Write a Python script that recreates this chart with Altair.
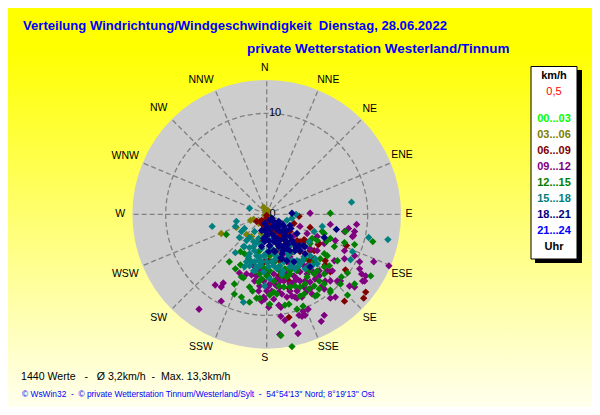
import altair as alt
import math
import pandas as pd

# wind points: east / north components in km/h, one pair of lists per time band
h00_03_e = [0.2, 0.3, 0.0]
h00_03_n = [-0.2, -0.4, -0.1]
h21_24_e = [0.1, 0.5, 0.8, 0.3, 1.3, 1.5, 0.7, -0.3]
h21_24_n = [-0.6, -0.9, -1.4, -1.7, -1.9, -2.4, -2.4, -1.1]
h03_06_e = [-0.3, 0.1, -0.2, -4.5, -1.6, -1.3, -3.0, -2.0, -1.5, -0.7, -0.8, -0.2, -0.5, 0.0]
h03_06_n = [0.7, 0.4, 0.4, -1.9, -0.6, -0.5, -1.3, -2.0, -2.2, -0.7, -0.9, -0.1, -1.9, 0.3]
h09_12_e = [4.3, 6.3, 8.9, 8.1, 7.7, 8.7, 8.6, 8.5, 7.7, 7.7, 9.2, 10.6, 12.1, 9.2, 9.4, 9.8, 9.7, 9.5, 8.7, 6.8,
            6.7, 6.5, 7.3, 7.0, 8.2, 8.7, 6.8, 6.3, 5.7, 6.3, -5.1, -4.3, -4.5, -4.5, -6.7, -2.7, -1.2, -2.0, -1.5, -0.5,
            -0.2, 0.2, 1.2, 1.4, 2.7, 3.1, 1.4, 1.8, 5.7, 5.4, 4.1, 3.5, 3.2, 3.8, 3.6, 2.8, 2.5, 3.0, 0.7, -0.3,
            0.0, 0.2, 1.3, 1.0, 2.3, 3.7, 4.3, 5.5, 4.5, 3.7, 3.0, 2.7, 3.8, 4.8, 3.3, 2.7, 3.3, 1.7, 2.3, 0.7,
            1.2, 1.3, -1.3, -0.7, 4.0, 5.0, -0.8,
            2.0, 1.7, 2.7, 3.3, 4.0, 4.3, 5.2, 2.3, 3.0, 4.0, 1.3, 0.3, -0.3, 0.0, -0.7, 0.5, 1.0, 1.5, 2.0, 3.5,
            4.5, 5.8, 5.2, 6.0, 2.8, 4.0, 3.2, 2.2, 0.8, -1.0, 5.0, 5.7, 3.7, 4.3]
h09_12_n = [0.1, -1.0, -1.0, -1.4, -1.7, -1.7, -2.1, -2.2, -3.6, -4.4, -4.7, -4.7, -5.1, -5.4, -5.9, -6.1, -6.6, -6.6, -4.1, -2.6,
            -4.6, -5.6, -6.6, -6.6, -7.1, -7.2, -8.2, -8.3, -7.4, -6.6, -7.0, -6.8, -7.2, -8.6, -9.4, -5.8, -6.6, -5.9, -6.0, -8.6,
            -8.4, -9.2, -9.0, -9.2, -11.0, -11.8, -10.1, -10.5, -10.0, -10.6, -9.4, -10.1, -10.0, -10.0, -9.6, -8.2, -8.1, -8.3, -8.4, -8.2,
            -7.6, -7.1, -7.2, -6.4, -6.9, -7.2, -7.4, -7.1, -5.6, -5.1, -6.4, -6.1, -6.6, -6.4, -5.7, -2.1, -1.2, -3.9, -4.2, -5.9,
            -7.7, -11.9, -5.1, -5.6, -1.9, -3.6, -7.6,
            -5.9, -6.6, -6.7, -6.6, -5.9, -6.7, -6.1, -7.6, -7.6, -7.6, -6.6, -6.9, -6.6, -5.9, -7.1, -7.6, -7.1, -7.9, -8.2, -8.2,
            -7.9, -6.6, -5.6, -5.6, -5.4, -5.1, -4.7, -4.7, -6.9, -6.1, -2.2, -2.9, -3.2, -3.4]
h12_15_e = [6.3, -4.0, 10.5, 2.5, 1.4, -3.2, -2.5, -1.7, -1.0, -0.7, -1.4, -1.7, -3.1, -3.7, -2.5, -2.3, -2.6, -3.2, -2.6, -2.2,
            -0.7, -0.8, 0.0, 0.7, 1.0, 1.8, 2.2, 3.0, 3.6, 0.3, 4.7, 5.2, 5.7, 6.3, 6.3, 8.0, 7.3, 7.4, 8.7, 10.3,
            8.0, 7.0, 5.7, 5.5, 7.8, 8.7, 6.7, 7.7, 4.3, 3.8, 2.3, 1.3, 2.0, 3.3, 2.3, 4.8, 5.0, 1.7, 0.3, 4.7,
            4.0, 3.0, 0.7, -0.5, 0.3, 5.7, 6.2, 6.3, 5.7, 5.9, 3.3,
            1.3, 1.8, 2.3, 3.2, 4.2, 5.0, 5.2, 3.7, 4.2, 2.8, 1.2, 0.2, -0.5, -1.2, -1.8, -0.8, -0.2, 0.8, 0.3, 4.7,
            5.3, 6.0, 5.0, 4.5, 1.5, 3.8, 5.7]
h12_15_n = [0.1, -2.0, -2.7, -13.1, -12.0, -7.9, -8.2, -8.7, -8.3, -8.3, -7.6, -7.2, -5.4, -4.7, -6.2, -6.3, -5.0, -6.9, -3.7, -3.9,
            -5.9, -6.7, -6.1, -7.7, -7.9, -9.0, -8.9, -9.4, -9.1, -8.0, -7.1, -7.4, -6.9, -7.5, -7.7, -8.0, -6.9, -6.2, -6.9, -6.1,
            -5.8, -4.6, -3.9, -1.7, -1.7, -3.0, -3.2, -2.8, -2.9, -4.4, -5.6, -5.6, -6.2, -7.2, -7.2, -8.1, -8.0, -7.2, -8.9, -5.9,
            -6.2, -5.6, -6.6, -5.1, -5.6, -5.9, -5.1, -2.4, -1.9, -2.7, -8.1,
            -5.1, -5.4, -5.9, -5.1, -5.6, -5.6, -6.6, -7.9, -7.4, -7.1, -7.1, -6.2, -6.4, -5.6, -4.4, -3.7, -5.4, -4.7, -4.1, -4.7,
            -4.4, -4.1, -2.6, -2.4, -6.1, -6.9, -5.2]
h15_18_e = [8.4, -1.7, -5.4, 12.0, 10.1, 5.5, -2.3, -3.0, -3.1, -2.7, -1.7, -2.0, -3.1, -1.7, -1.3, -1.7, -1.0, -0.5, 2.0, 2.9,
            2.5, 8.3, 8.5, 4.7, 4.2, 0.3, 0.7, -0.7, -1.5, -1.0, 0.0, 1.0, 1.7, 2.3, 3.0, 3.7, 4.3, 5.0, 3.8, 2.3,
            0.3, -0.2, -1.3, 1.0, 1.7, 2.7, 3.3, -1.2, -0.8, -0.3, 0.5, 1.3, 2.0, 3.2, 4.5, -1.8, 0.3, -0.2, 1.2,
            -0.6, 0.9, -1.1, 1.4, 2.2, -2.2, 0.0, 1.6, 3.5, 2.6,
            -2.2, -2.5, -1.2, -0.8, -1.3, -2.3, -2.0, -2.2, -0.5, -1.0, -0.3, 0.2, 1.5, 2.8, 3.5, 4.2, 4.8, -0.2, 0.5, 2.0,
            1.3, -1.7, -0.7, -1.2, 0.7, 2.5]
h15_18_n = [1.2, 0.6, -1.2, -2.5, -2.3, -1.2, -8.7, -0.7, -1.2, -2.3, -2.3, -2.6, -3.8, -3.3, -3.2, -3.9, -2.8, -3.4, -0.6, 0.0,
            -0.4, -4.5, -3.7, -1.7, -2.7, -3.2, -3.9, -4.2, -4.7, -5.2, -4.7, -4.2, -3.6, -3.1, -4.6, -4.2, -4.1, -4.9, -5.4, -5.2,
            -6.4, -7.1, -5.6, -5.4, -4.7, -3.7, -3.2, -3.6, -4.6, -4.1, -4.7, -5.1, -4.4, -5.1, -5.1, -4.2, -2.6, -2.2, -2.9,
            -3.0, -4.4, -5.5, -3.3, -4.0, -3.2, -3.8, -5.6, -4.6, -4.9,
            -1.4, -1.7, -1.7, -2.4, -2.7, -3.2, -4.7, -5.2, -4.7, -4.1, -5.7, -5.2, -5.9, -5.4, -4.7, -5.1, -4.4, -4.1, -3.4, -3.7,
            -3.4, -5.1, -5.1, -4.7, -5.1, -4.6]
h18_21_e = [2.5, 6.9, 5.7, 0.3, 0.7, 1.0, 1.3, 1.7, 2.0, -0.2, 0.2, 0.8, 1.2, 0.5, 0.8, 1.5, 1.8, 1.3, 0.7, 0.2,
            2.0, 2.7, 3.3, 2.3, 1.2, 1.5, 2.7, 0.0, -0.5, -0.2, 2.3, 3.0, 1.7, 4.3, 3.8, -0.2,
            0.5, 1.0, 1.6, 2.4, 0.9, 0.3, 1.1, 2.1, 1.6, 0.6, 0.1, 2.9, 1.4, 3.6,
            -0.5, -0.3, 0.3, 0.8, 2.0, 2.5, 1.7, 1.0, 2.3, 0.0, 0.5, 1.2, 2.8, 0.7, 0.2, 3.8, 1.5, 2.0, 1.0, 0.3,
            3.2, 1.5]
h18_21_n = [0.1, -1.5, -2.3, -0.6, -0.7, -0.9, -1.1, -1.2, -1.6, -0.9, -1.4, -1.2, -1.6, -1.9, -2.2, -1.7, -2.1, -2.6, -2.7, -2.6,
            -2.7, -2.9, -3.6, -3.6, -3.2, -3.9, -4.7, -2.1, -3.2, -2.7, -2.2, -1.9, -3.1, -5.2, -3.9, -1.6,
            -0.4, -1.5, -1.0, -1.4, -2.4, -3.1, -2.9, -3.0, -3.6, -1.2, -1.8, -3.3, -4.3, -3.1,
            -1.6, -2.4, -3.1, -3.7, -3.4, -2.6, -2.4, -2.9, -1.1, -1.2, -0.4, -0.7, -3.6, -3.6, -3.7, -3.2, -4.4, -4.6, -2.4, -1.9,
            -3.1, -3.2]
h06_09_e = [4.3, 2.7, 3.2, 9.8, 9.6, 7.7, 7.8, 6.3, 5.8, 5.8, 5.1, 4.7, 4.7, 3.7, 2.2, 2.2, 2.2, 1.2, -0.2, 1.3,
            0.0, 0.3, -0.2, 0.7, 1.3, 2.0, 2.3, 1.8, 3.3, 4.2, -1.0, -0.5, 0.2, -0.7, 1.0, 2.3, 3.0, 5.2, 3.7, 0.0,
            0.5, 1.2, 3.3, 7.9,
            0.7, -0.5, 1.7, 1.0, 2.3, 2.7, 4.3, 3.8, 0.2, 2.0]
h06_09_n = [-1.3, -0.9, -0.2, -7.7, -8.3, -8.6, -5.5, -5.7, -4.6, -5.0, -3.0, -3.6, -4.4, -2.5, -10.2, -7.3, -6.6, -6.1, -4.7, -4.6,
            -0.1, -0.9, -1.2, -1.6, -2.2, -2.1, -1.7, -2.6, -3.7, -4.6, -0.7, -0.6, -1.9, -2.6, -3.6, -3.9, -2.6, -2.9, -7.1, -0.4,
            -1.2, -1.7, -2.7, -3.1,
            -1.9, -0.9, -1.6, -1.2, -3.1, -3.7, -3.6, -2.6, -4.6, -4.7]

# drawing order: the later bands sit on top
band_names = ["00...03", "21...24", "03...06", "06...09", "09...12", "12...15", "15...18", "18...21"]
band_colors = ["#00ff00", "#0000ff", "#808000", "#800000", "#800080", "#008000", "#008080", "#000080"]
band_e = [h00_03_e, h21_24_e, h03_06_e, h06_09_e, h09_12_e, h12_15_e, h15_18_e, h18_21_e]
band_n = [h00_03_n, h21_24_n, h03_06_n, h06_09_n, h09_12_n, h12_15_n, h15_18_n, h18_21_n]

compass = ["N", "NNE", "NE", "ENE", "E", "ESE", "SE", "SSE", "S", "SSW", "SW", "WSW", "W", "WNW", "NW", "NNW"]
compass_e = [-0.2, 6.1, 10.2, 13.4, 14.1, 13.4, 10.2, 6.1, -0.2, -6.5, -10.7, -14.0, -14.5, -14.0, -10.7, -6.5]
compass_n = [14.5, 13.3, 10.4, 5.9, 0.0, -5.9, -10.3, -13.1, -14.2, -13.1, -10.3, -5.9, 0.0, 5.8, 10.5, 13.3]

legend_labels = ["00...03", "03...06", "06...09", "09...12", "12...15", "15...18", "18...21", "21...24"]
legend_colors = ["#00ff00", "#808000", "#800000", "#800080", "#008000", "#008080", "#000080", "#0000ff"]

W, H = 584, 399
PX_PER_KMH = 10.1
CX, CY = 258.7, 206.3
OUTER = 13.3
x_scale = alt.Scale(domain=[-CX / PX_PER_KMH, (W - CX) / PX_PER_KMH], nice=False, zero=False)
y_scale = alt.Scale(domain=[-(H - CY) / PX_PER_KMH, CY / PX_PER_KMH], nice=False, zero=False)
FONT = "Liberation Sans"

rows = []
for name, es, ns in zip(band_names, band_e, band_n):
    for e, n in zip(es, ns):
        rows.append({"band": name, "e": e, "n": n})
points_df = pd.DataFrame(rows)

one = pd.DataFrame({"e": [0.0], "n": [0.0]})


def box(x0, x1, y0, y1, **kw):
    return alt.Chart(one).mark_rect(**kw).encode(
        x=alt.value(x0), x2=alt.value(x1), y=alt.value(y0), y2=alt.value(y1))


def label(x, y, text, size=11, color="black", weight="normal", align="center"):
    return alt.Chart(one).mark_text(fontSize=size, color=color, fontWeight=weight, align=align,
                                    baseline="middle", font=FONT).encode(
        x=alt.value(x), y=alt.value(y), text=alt.value(text))


background = box(0, W, 0, H, color=alt.LinearGradient(
    gradient="linear", x1=0, x2=0, y1=0, y2=1,
    stops=[alt.GradientStop(color="#ffff00", offset=0),
           alt.GradientStop(color="#ffff00", offset=0.1),
           alt.GradientStop(color="#ffffee", offset=1)]))

disk = alt.Chart(one).mark_circle(size=(2 * OUTER * PX_PER_KMH) ** 2, color="#cdcdcd", opacity=1).encode(
    x=alt.X("e:Q", scale=x_scale, axis=None), y=alt.Y("n:Q", scale=y_scale, axis=None))

ring = alt.Chart(one).mark_point(size=(2 * 10 * PX_PER_KMH) ** 2, shape="circle", filled=False,
                                 color="#808080", strokeWidth=1.3, strokeDash=[5, 3], opacity=1).encode(
    x=alt.X("e:Q", scale=x_scale, axis=None), y=alt.Y("n:Q", scale=y_scale, axis=None))

spoke_df = pd.DataFrame([
    {"e0": 0.0, "n0": 0.0,
     "e1": OUTER * math.sin(math.radians(22.5 * i)),
     "n1": OUTER * math.cos(math.radians(22.5 * i))}
    for i in range(16)])
spokes = alt.Chart(spoke_df).mark_rule(color="#808080", strokeWidth=1.3, strokeDash=[5, 3]).encode(
    x=alt.X("e0:Q", scale=x_scale, axis=None), x2="e1:Q",
    y=alt.Y("n0:Q", scale=y_scale, axis=None), y2="n1:Q")

points = alt.Chart(points_df).mark_point(shape="diamond", filled=True, size=54, opacity=1).encode(
    x=alt.X("e:Q", scale=x_scale, axis=None),
    y=alt.Y("n:Q", scale=y_scale, axis=None),
    color=alt.Color("band:N", scale=alt.Scale(domain=band_names, range=band_colors), legend=None))

compass_df = pd.DataFrame({"t": compass, "e": compass_e, "n": compass_n})
compass_text = alt.Chart(compass_df).mark_text(fontSize=10.5, font=FONT, color="black", baseline="middle").encode(
    x=alt.X("e:Q", scale=x_scale, axis=None), y=alt.Y("n:Q", scale=y_scale, axis=None), text="t:N")

layers = [background, disk, ring, spokes, points, compass_text,
          label(267, 105, "10", align="center"), label(264.5, 206, "0"),
          label(15, 18, "Verteilung Windrichtung/Windgeschwindigkeit\u00a0\u00a0Dienstag, 28.06.2022",
                size=13.1, color="#0000ff", weight="bold", align="left"),
          label(239, 41, "private Wetterstation Westerland/Tinnum",
                size=13.5, color="#0000ff", weight="bold", align="left"),
          box(527, 574, 62, 255, color="black"),
          box(523, 569, 58.5, 251, color="white", stroke="black", strokeWidth=1),
          label(546, 68, "km/h", weight="bold"),
          label(546, 84, "0,5", color="#ff0000"),
          label(546, 239, "Uhr", weight="bold"),
          label(13, 369, "1440 Werte\u00a0\u00a0\u00a0-\u00a0\u00a0\u00a0\u00d8 3,2km/h\u00a0\u00a0-\u00a0\u00a0Max. 13,3km/h", size=10.6, align="left"),
          label(14, 386, "\u00a9 WsWin32\u00a0\u00a0-\u00a0\u00a0\u00a9 private Wetterstation Tinnum/Westerland/Sylt\u00a0\u00a0-\u00a0\u00a054\u00b054'13'' Nord; 8\u00b019'13'' Ost",
                size=8.4, color="#0000ff", align="left")]
for i, (t, c) in enumerate(zip(legend_labels, legend_colors)):
    layers.append(label(546, 111 + 16 * i, t, color=c, weight="bold"))

chart = alt.layer(*layers).properties(
    width=W, height=H, padding=0, autosize=alt.AutoSizeParams(type="none")
).configure_view(stroke=None)

chart.save("out.html", embed_options={"renderer": "svg", "actions": False})
